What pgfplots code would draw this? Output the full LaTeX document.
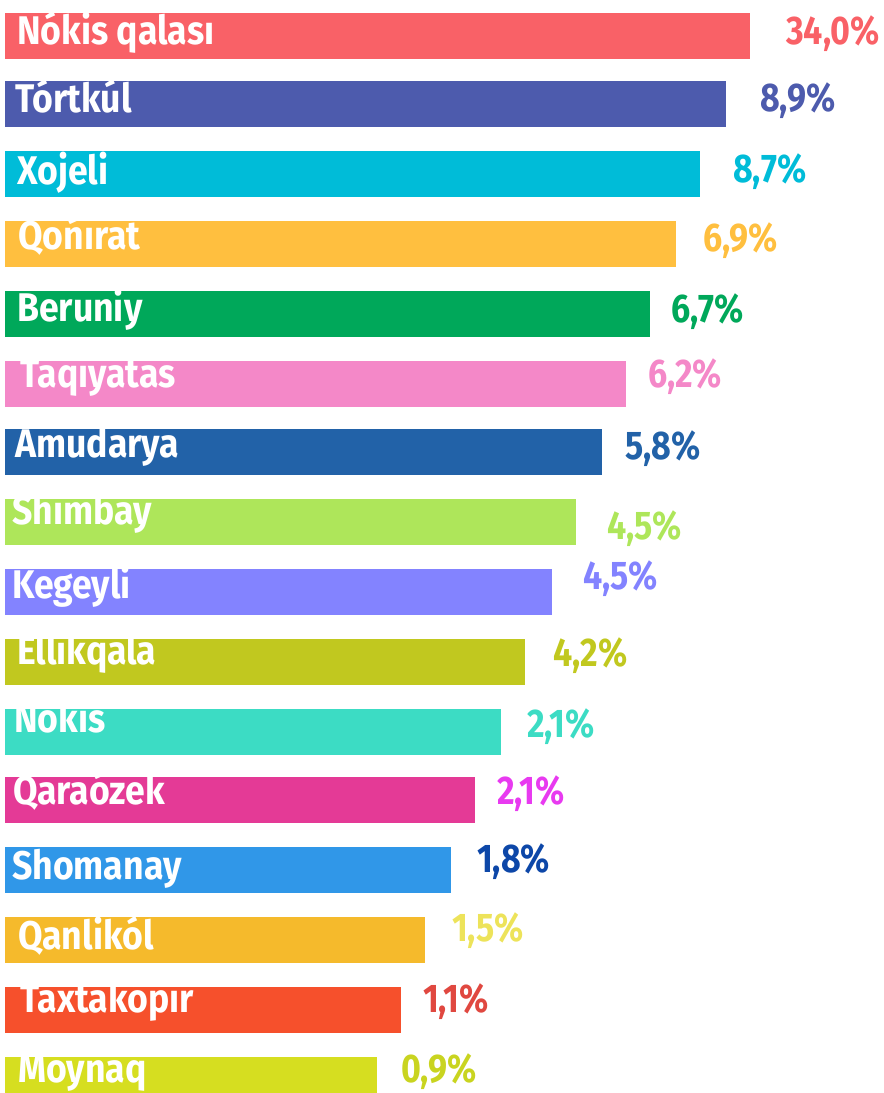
\documentclass[border=0pt]{standalone}
\usepackage{pgfplots}
\pgfplotsset{compat=1.18}
\usepackage{fontspec}
\setmainfont{Fira Sans}
\newfontfamily\cf[FakeStretch=0.89]{Fira Sans Bold}
\newfontfamily\cv[FakeStretch=0.85]{Fira Sans Bold}
\definecolor{c1}{HTML}{F96167}
\definecolor{c2}{HTML}{4D5BAD}
\definecolor{c3}{HTML}{00BCD8}
\definecolor{c4}{HTML}{FFBF3F}
\definecolor{c5}{HTML}{00A85A}
\definecolor{c6}{HTML}{F488C8}
\definecolor{c7}{HTML}{2262A8}
\definecolor{c8}{HTML}{AEE65A}
\definecolor{c9}{HTML}{8383FF}
\definecolor{c10}{HTML}{C1C81F}
\definecolor{c11}{HTML}{3CDCC4}
\definecolor{c12}{HTML}{E43A96}
\definecolor{l12}{HTML}{E83AF0}
\definecolor{c13}{HTML}{3097E8}
\definecolor{l13}{HTML}{0D47A8}
\definecolor{c14}{HTML}{F5BA2C}
\definecolor{l14}{HTML}{EDE35A}
\definecolor{c15}{HTML}{F6502C}
\definecolor{l15}{HTML}{E04840}
\definecolor{c16}{HTML}{D6DE20}
\definecolor{l16}{HTML}{C9D420}
\tikzset{
  nl/.style={anchor=base west, inner sep=0pt, text=white, font=\cf\fontsize{40bp}{42bp}\selectfont},
  vl/.style={anchor=base west, inner sep=0pt, font=\cv\fontsize{40bp}{42bp}\selectfont},
}
\begin{document}
\begin{tikzpicture}
\useasboundingbox (0,0) rectangle (884bp,1093bp);
\begin{axis}[
  width=884bp, height=1093bp, scale only axis,
  xmin=-5, xmax=879, ymin=0, ymax=1093,
  hide axis, xbar, bar width=46,
  every axis plot/.append style={bar shift=0pt, draw=none},
]
% bar lengths as drawn (px from the left edge), bar centres
\addplot[fill=c1]  coordinates {(745,1057)};
\addplot[fill=c2]  coordinates {(721,989)};
\addplot[fill=c3]  coordinates {(695,919)};
\addplot[fill=c4]  coordinates {(671,849)};
\addplot[fill=c5]  coordinates {(645,779)};
\addplot[fill=c6]  coordinates {(621,709)};
\addplot[fill=c7]  coordinates {(597,641)};
\addplot[fill=c8]  coordinates {(571,571)};
\addplot[fill=c9]  coordinates {(547,501)};
\addplot[fill=c10] coordinates {(520,431)};
\addplot[fill=c11] coordinates {(496,361)};
\addplot[fill=c12] coordinates {(470,293)};
\addplot[fill=c13] coordinates {(446,223)};
\addplot[fill=c14] coordinates {(420,153)};
\addplot[fill=c15] coordinates {(396,83)};
\addplot[fill=c16] coordinates {(372,13)};
% names
\node[nl] at (axis cs:12,1048) {Nókis qalası};
\node[nl] at (axis cs:10,980) {Tórtkúl};
\node[nl] at (axis cs:12,908) {Xojeli};
\node[nl] at (axis cs:13,843) {Qońırat};
\node[nl] at (axis cs:12,771) {Beruniy};
\node[nl] at (axis cs:15,705) {Taqıyatas};
\node[nl] at (axis cs:10,635) {Amudarya};
\node[nl] at (axis cs:7,568) {Shımbay};
\node[nl] at (axis cs:7,494) {Kegeyli};
\node[nl] at (axis cs:12,428) {Ellikqala};
\node[nl] at (axis cs:9,360) {Nókis};
\node[nl] at (axis cs:8,288) {Qaraózek};
\node[nl] at (axis cs:7,213) {Shomanay};
\node[nl] at (axis cs:13,143) {Qanlikól};
\node[nl] at (axis cs:15,80) {Taxtakópir};
\node[nl] at (axis cs:13,11) {Moynaq};
% values
\node[vl,text=c1]  at (axis cs:781,1048) {34,0\%};
\node[vl,text=c2]  at (axis cs:755,981) {8,9\%};
\node[vl,text=c3]  at (axis cs:728,910) {8,7\%};
\node[vl,text=c4]  at (axis cs:698,841) {6,9\%};
\node[vl,text=c5]  at (axis cs:666,770) {6,7\%};
\node[vl,text=c6]  at (axis cs:643,705) {6,2\%};
\node[vl,text=c7]  at (axis cs:620,633) {5,8\%};
\node[vl,text=c8]  at (axis cs:602,553) {4,5\%};
\node[vl,text=c9]  at (axis cs:578,503) {4,5\%};
\node[vl,text=c10] at (axis cs:548,426) {4,2\%};
\node[vl,text=c11] at (axis cs:522,355) {2,1\%};
\node[vl,text=l12] at (axis cs:492,288) {2,1\%};
\node[vl,text=l13] at (axis cs:472,220) {1,8\%};
\node[vl,text=l14] at (axis cs:447,151) {1,5\%};
\node[vl,text=l15] at (axis cs:418,80) {1,1\%};
\node[vl,text=l16] at (axis cs:396,11) {0,9\%};
\end{axis}
\end{tikzpicture}
\end{document}
